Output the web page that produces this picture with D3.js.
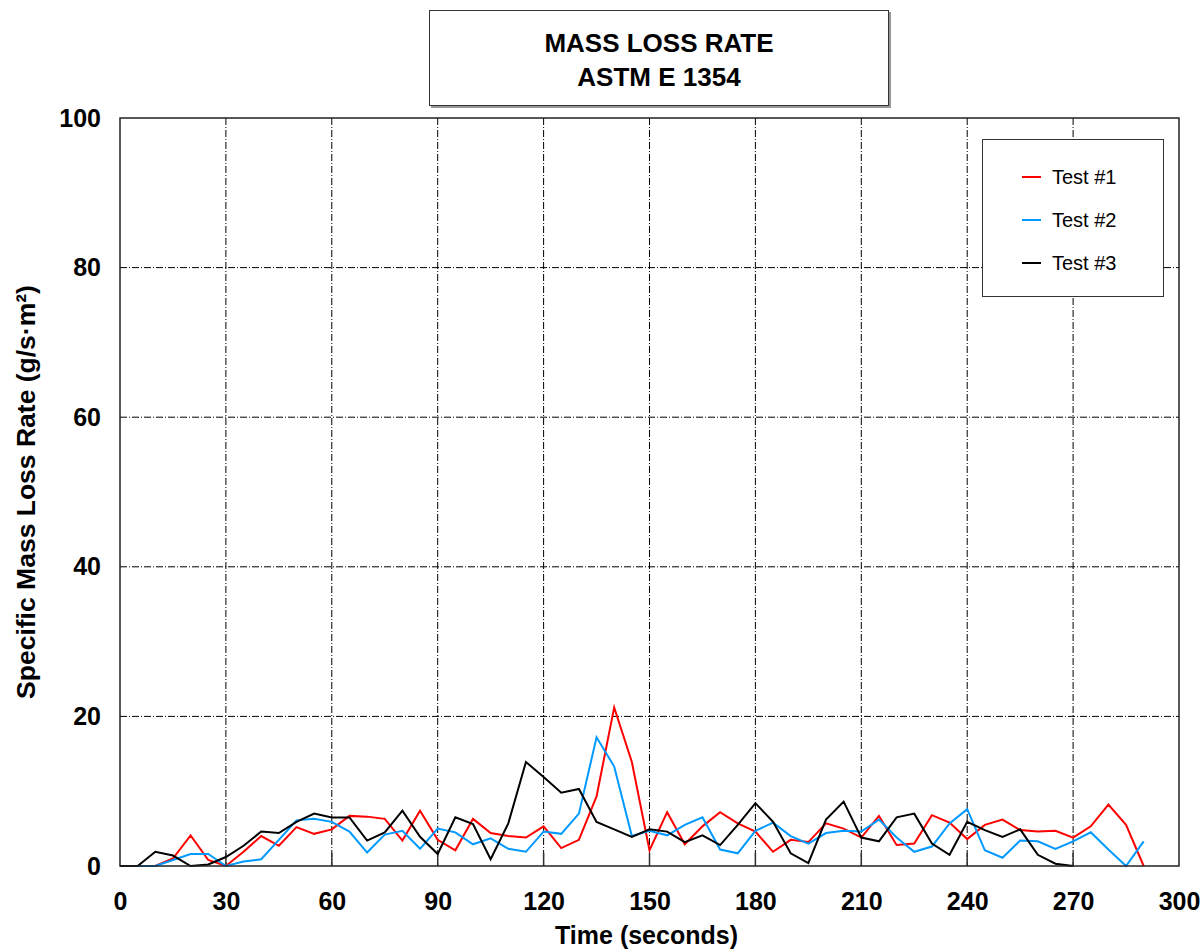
<!DOCTYPE html>
<html><head><meta charset="utf-8">
<script src="https://cdn.jsdelivr.net/npm/d3@7"></script>
<style>body{margin:0;background:#fff}svg{display:block}</style>
</head><body>
<svg id="c" width="1202" height="950"></svg>
<script>
const times = d3.range(0, 295, 5);
const test1 = [0,0,0,1.0,4.1,0.8,0,1.9,4.0,2.7,5.2,4.3,4.9,6.7,6.6,6.3,3.4,7.4,3.5,2.1,6.3,4.4,4.0,3.8,5.3,2.4,3.5,9.3,21.2,13.9,2.1,7.2,2.9,5.3,7.2,5.7,4.6,1.9,3.5,3.2,5.7,5.0,3.8,6.7,2.8,3.0,6.8,5.8,3.6,5.5,6.2,4.8,4.6,4.7,3.8,5.3,8.2,5.5,0];
const test2 = [null,0,0,0.8,1.6,1.6,0,0.6,0.9,3.5,6.1,6.3,5.9,4.6,1.8,4.2,4.7,2.3,5.0,4.5,2.9,3.7,2.3,1.9,4.6,4.3,7.0,17.2,13.3,4.0,4.7,4.1,5.5,6.5,2.2,1.7,4.7,5.8,4.0,3.0,4.4,4.7,4.6,6.2,3.8,1.9,2.6,5.7,7.6,2.1,1.1,3.4,3.3,2.3,3.3,4.5,2.2,0,3.3];
const test3 = [0,0,1.9,1.4,0,0.2,1.2,2.7,4.6,4.4,5.9,7.0,6.5,6.5,3.4,4.5,7.4,3.9,1.6,6.5,5.6,0.9,5.7,13.9,11.9,9.8,10.3,5.9,4.9,3.9,4.9,4.6,3.2,4.1,2.8,5.5,8.4,5.9,1.7,0.4,6.2,8.6,3.8,3.3,6.5,7.0,3.0,1.5,5.9,4.8,3.9,4.9,1.5,0.3,0];
const seriesNames = ["Test #1","Test #2","Test #3"];
const seriesColors = ["#ff0000","#0099ff","#000000"];
const xTicks = [0,30,60,90,120,150,180,210,240,270,300];
const yTicks = [0,20,40,60,80,100];
const titleLines = ["MASS LOSS RATE","ASTM E 1354"];

const svg = d3.select("#c");
const L=120, R=1179, T=118, B=866;
const x = d3.scaleLinear().domain([0,300]).range([L,R]);
const y = d3.scaleLinear().domain([0,100]).range([B,T]);
const font = "'Liberation Sans', Arial, sans-serif";

// grid
const g = svg.append("g");
g.selectAll(".vg").data(xTicks.slice(1,-1)).join("line")
  .attr("x1",d=>x(d)).attr("x2",d=>x(d)).attr("y1",T).attr("y2",B)
  .attr("stroke","#000").attr("stroke-width",1).attr("stroke-dasharray","7,2,1,2");
g.selectAll(".hg").data(yTicks.slice(1,-1)).join("line")
  .attr("x1",L).attr("x2",R).attr("y1",d=>y(d)).attr("y2",d=>y(d))
  .attr("stroke","#000").attr("stroke-width",1).attr("stroke-dasharray","7,2,1,2");
// bottom inner ticks
g.selectAll(".bt").data(xTicks.slice(1,-1)).join("line")
  .attr("x1",d=>x(d)).attr("x2",d=>x(d)).attr("y1",B-13).attr("y2",B)
  .attr("stroke","#333").attr("stroke-width",1.5);

// series
const sets=[test1,test2,test3];
const line = d3.line().defined(d=>d[1]!=null).x(d=>x(d[0])).y(d=>y(d[1]));
sets.forEach((s,i)=>{
  const pts = s.map((v,j)=>[times[j],v]);
  svg.append("path").attr("d",line(pts)).attr("fill","none")
    .attr("stroke",seriesColors[i]).attr("stroke-width",2).attr("stroke-linejoin","miter");
});

// frame
svg.append("rect").attr("x",L).attr("y",T).attr("width",R-L).attr("height",B-T)
  .attr("fill","none").attr("stroke","#222").attr("stroke-width",1.5);

// axes labels
const xAxis = d3.axisBottom(x).tickValues(xTicks).tickSize(0).tickPadding(26);
const xa = svg.append("g").attr("transform",`translate(0,${B})`).call(xAxis);
xa.select(".domain").remove();
xa.selectAll("text").attr("font-family",font).attr("font-weight","bold").attr("font-size",25).attr("fill","#000").attr("dy","0.71em");
const yAxis = d3.axisLeft(y).tickValues(yTicks).tickSize(0).tickPadding(19);
const ya = svg.append("g").attr("transform",`translate(${L},0)`).call(yAxis);
ya.select(".domain").remove();
ya.selectAll("text").attr("font-family",font).attr("font-weight","bold").attr("font-size",25).attr("fill","#000");

svg.append("text").attr("x",(L+R)/2-3).attr("y",944).attr("text-anchor","middle")
  .attr("font-family",font).attr("font-weight","bold").attr("font-size",25).text("Time (seconds)");
svg.append("text").attr("transform",`translate(35,${(T+B)/2}) rotate(-90)`).attr("text-anchor","middle")
  .attr("font-family",font).attr("font-weight","bold").attr("font-size",26.5).text("Specific Mass Loss Rate (g/s·m²)");

// title box
svg.append("rect").attr("x",431).attr("y",12).attr("width",460).attr("height",96).attr("fill","#999");
svg.append("rect").attr("x",429.5).attr("y",10.5).attr("width",459).attr("height",95).attr("fill","#fff").attr("stroke","#333").attr("stroke-width",1);
titleLines.forEach((t,i)=>{
  svg.append("text").attr("x",659).attr("y",52+i*34).attr("text-anchor","middle")
    .attr("font-family",font).attr("font-weight","bold").attr("font-size",26).text(t);
});

// legend
svg.append("rect").attr("x",982.5).attr("y",139.5).attr("width",181).attr("height",157)
  .attr("fill","#fff").attr("stroke","#333").attr("stroke-width",1);
seriesNames.forEach((n,i)=>{
  const yy = 177+i*43;
  svg.append("line").attr("x1",1022).attr("x2",1041).attr("y1",yy).attr("y2",yy)
    .attr("stroke",seriesColors[i]).attr("stroke-width",2);
  svg.append("text").attr("x",1052).attr("y",yy+7).attr("font-family",font).attr("font-size",20).text(n);
});
</script>
</body></html>
